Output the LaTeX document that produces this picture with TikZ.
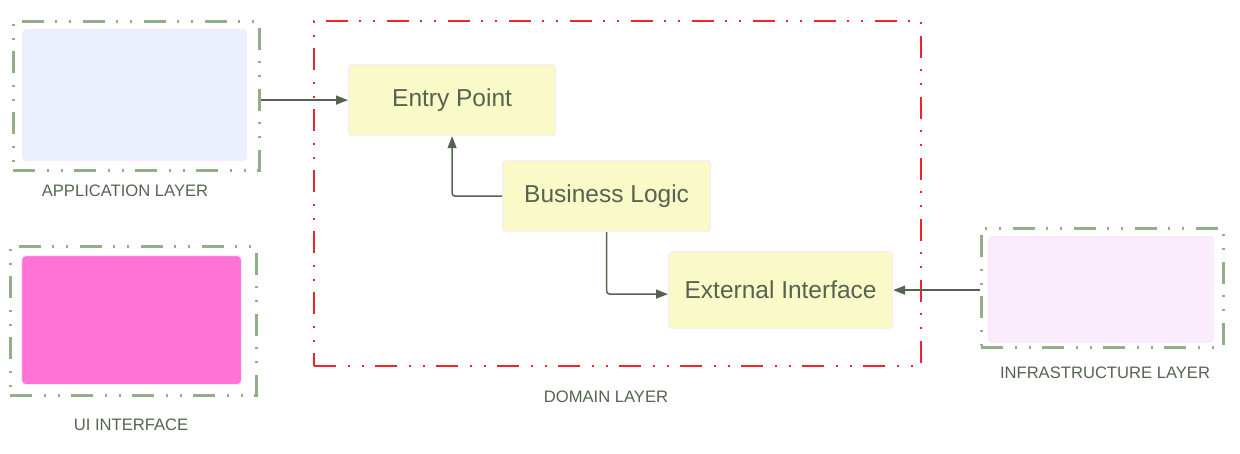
\documentclass[tikz,border=0pt]{standalone}
\usepackage{fontspec}
\setmainfont{Liberation Sans}
\usetikzlibrary{arrows.meta}
\definecolor{framegreen}{RGB}{147,175,138}
\definecolor{domainred}{RGB}{240,36,44}
\definecolor{textgreen}{RGB}{84,100,80}
\definecolor{boxyellow}{RGB}{250,250,200}
\definecolor{boxedge}{RGB}{249,234,250}
\definecolor{appblue}{RGB}{235,240,252}
\definecolor{uipink}{RGB}{255,115,214}
\definecolor{infrapink}{RGB}{250,236,252}

\begin{document}
\begin{tikzpicture}[x=1pt, y=-1pt,
    layerframe/.style={draw=framegreen, line width=2.5pt, dash pattern=on 22pt off 12pt on 2pt off 12pt on 2pt off 11pt, rectangle, anchor=north west, inner sep=0pt},
    domainframe/.style={layerframe, draw=domainred, line width=2pt},
    panel/.style={draw=boxedge, line width=1.2pt, rounded corners=4pt, rectangle, anchor=north west, inner sep=0pt},
    item/.style={panel, fill=boxyellow, text=textgreen, font=\fontsize{24.5}{29}\selectfont},
    caption/.style={text=textgreen, font=\fontsize{16.6}{20}\selectfont},
    conn/.style={draw=textgreen, line width=1.5pt, rounded corners=3pt, -{Triangle[length=12pt, width=9pt]}}]
    \useasboundingbox (0,0) rectangle (1240,453);

    % Layers
    \node[layerframe, minimum width=246pt, minimum height=149pt] (app) at (12,20) {};
    \node[panel, fill=appblue, minimum width=224pt, minimum height=131pt] (app-box) at (22,29) {};
    \node[caption] (app-label) at (125,191) {APPLICATION LAYER};

    \node[layerframe, minimum width=246pt, minimum height=149pt] (ui) at (9,245) {};
    \node[panel, fill=uipink, minimum width=220pt, minimum height=129pt] (ui-box) at (21,255) {};
    \node[caption] (ui-label) at (131,425) {UI INTERFACE};

    \node[domainframe, minimum width=607pt, minimum height=345pt] (dom) at (313,20) {};
    \node[caption] (dom-label) at (606,397) {DOMAIN LAYER};

    \node[layerframe, minimum width=242pt, minimum height=119pt] (infra) at (980,227) {};
    \node[panel, fill=infrapink, minimum width=225pt, minimum height=106pt] (infra-box) at (988,236) {};
    \node[caption] (infra-label) at (1105,373) {INFRASTRUCTURE LAYER};

    % Domain parts
    \node[item, minimum width=207pt, minimum height=71pt] (entry) at (348,64) {Entry Point};
    \node[item, minimum width=208pt, minimum height=71pt] (biz) at (502,160) {Business Logic};
    \node[item, minimum width=224pt, minimum height=77pt] (ext) at (668,251) {External Interface};

    % Connectors
    \draw[conn] (app.east |- entry.west) -- (entry.west);
    \draw[conn] (biz.west) -| (entry.south);
    \draw[conn] (biz.south) |- ([yshift=-4pt]ext.west);
    \draw[conn] (infra.west |- ext.east) -- (ext.east);
\end{tikzpicture}
\end{document}
